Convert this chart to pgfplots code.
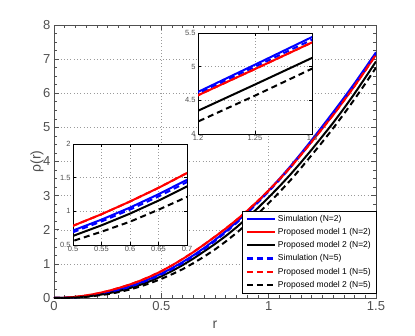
\documentclass[border=0pt]{standalone}
\usepackage{fontspec}
\setmainfont{Liberation Sans}
\usepackage{pgfplots}
\usepackage{pgfplotstable}
\pgfplotsset{compat=1.18}

\definecolor{frame}{HTML}{505050}
\definecolor{gridc}{HTML}{9A9A9A}

% r, Simulation N=2 (B), Simulation N=5 (Bd), Model 1 (R), Model 2 N=2 (K), Model 2 N=5 (Kd)
\pgfplotstableread{
r     B      Bd     R      K      Kd
0     0      0      0      0      0
0.05  0.005  0.005  0.008  0.003  0.002
0.10  0.023  0.021  0.033  0.018  0.013
0.15  0.054  0.051  0.074  0.044  0.034
0.20  0.101  0.096  0.131  0.081  0.071
0.25  0.162  0.155  0.202  0.132  0.112
0.30  0.240  0.230  0.290  0.200  0.170
0.35  0.333  0.320  0.388  0.283  0.243
0.40  0.443  0.428  0.503  0.383  0.333
0.45  0.570  0.550  0.635  0.500  0.440
0.50  0.715  0.690  0.785  0.635  0.560
0.55  0.877  0.850  0.957  0.792  0.697
0.60  1.056  1.026  1.146  0.966  0.846
0.65  1.254  1.221  1.349  1.159  1.024
0.70  1.469  1.434  1.569  1.369  1.214
0.75  1.703  1.670  1.798  1.583  1.423
0.80  1.955  1.923  2.035  1.815  1.655
0.85  2.226  2.195  2.286  2.071  1.906
0.90  2.516  2.486  2.556  2.346  2.176
0.95  2.825  2.795  2.845  2.640  2.470
1.00  3.150  3.120  3.150  2.950  2.780
1.05  3.490  3.460  3.475  3.270  3.100
1.10  3.850  3.820  3.820  3.610  3.440
1.15  4.230  4.205  4.190  3.970  3.805
1.20  4.625  4.605  4.575  4.345  4.185
1.25  5.030  5.000  4.965  4.735  4.570
1.30  5.440  5.400  5.360  5.130  4.970
1.35  5.860  5.820  5.780  5.550  5.390
1.40  6.290  6.250  6.210  5.990  5.825
1.45  6.740  6.700  6.665  6.455  6.280
1.50  7.200  7.160  7.130  6.930  6.750
}\rhodata

\tikzset{
  solc/.style={line width=2pt},
  dashc/.style={line width=2pt, dash pattern=on 6pt off 4pt},
  legsol/.style={line width=2.4pt},
  legdash/.style={line width=2.4pt, dash pattern=on 6pt off 4pt},
}
\pgfplotsset{
  gridlook/.style={grid=major,
    grid style={gridc, line width=0.45pt, dash pattern=on 0.7pt off 2.6pt}},
}

\begin{document}
\begin{tikzpicture}
\path[use as bounding box] (-54pt,-37pt) rectangle (361pt,298pt);

% main axis
\begin{axis}[
  width=322pt, height=273pt, scale only axis,
  xmin=0, xmax=1.5, ymin=0, ymax=8,
  xtick={0,0.5,1,1.5}, ytick={0,1,...,8},
  minor x tick num=9, minor y tick num=3,
  tick align=inside, xtick pos=both, ytick pos=both,
  major tick length=5pt, minor tick length=3pt,
  gridlook,
  axis line style={frame, line width=0.8pt},
  tick style={frame, line width=0.6pt},
  tick label style={font=\fontsize{13}{13}\selectfont, color=frame},
  /pgf/number format/assume math mode=true,
  xlabel={r}, ylabel={ρ(r)},
  every axis x label/.style={at={(axis description cs:0.5,-0.099)}, anchor=center,
    font=\fontsize{14}{14}\selectfont, color=frame},
  every axis y label/.style={at={(axis description cs:-0.053,0.5)}, anchor=center,
    rotate=90, font=\fontsize{14}{14}\selectfont, color=frame},
  legend style={at={(axis description cs:1,0.018)}, anchor=south east,
    draw=black, fill=white,
    font=\fontsize{8.5}{10}\selectfont, row sep=1.6pt,
    inner xsep=3pt, inner ysep=2pt},
  legend cell align=left,
]
\addplot[blue, solc, forget plot] table[x=r, y=B] {\rhodata};
\addplot[red, solc, forget plot] table[x=r, y=R] {\rhodata};
\addplot[black, solc, forget plot] table[x=r, y=K] {\rhodata};
\addplot[blue, dashc, forget plot] table[x=r, y=Bd] {\rhodata};
\addplot[red, dashc, forget plot] table[x=r, y=R] {\rhodata};
\addplot[black, dashc, forget plot] table[x=r, y=Kd] {\rhodata};
\addlegendimage{legend image code/.code={\draw[blue, legsol] (0pt,0pt) -- (28pt,0pt);}}
\addlegendentry{Simulation (N=2)}
\addlegendimage{legend image code/.code={\draw[red, legsol] (0pt,0pt) -- (28pt,0pt);}}
\addlegendentry{Proposed model 1 (N=2)}
\addlegendimage{legend image code/.code={\draw[black, legsol] (0pt,0pt) -- (28pt,0pt);}}
\addlegendentry{Proposed model 2 (N=2)}
\addlegendimage{legend image code/.code={\draw[blue, legdash] (0pt,0pt) -- (28pt,0pt);}}
\addlegendentry{Simulation (N=5)}
\addlegendimage{legend image code/.code={\draw[red, legdash] (0pt,0pt) -- (28pt,0pt);}}
\addlegendentry{Proposed model 1 (N=5)}
\addlegendimage{legend image code/.code={\draw[black, legdash] (0pt,0pt) -- (28pt,0pt);}}
\addlegendentry{Proposed model 2 (N=5)}
\end{axis}

% upper inset
\begin{axis}[
  at={(144pt,164pt)}, anchor=south west,
  width=114pt, height=101pt, scale only axis,
  xmin=1.2, xmax=1.3, ymin=4, ymax=5.5,
  xtick={1.2,1.25,1.3}, ytick={4,4.5,5,5.5},
  tick align=inside, major tick length=3pt,
  axis background/.style={fill=white},
  gridlook,
  axis line style={black, line width=0.8pt},
  tick style={black, line width=0.5pt},
  tick label style={font=\fontsize{7.5}{7.5}\selectfont, color=frame},
  /pgf/number format/assume math mode=true,
  xticklabel style={yshift=2pt}, yticklabel style={xshift=1pt},
]
\addplot[blue, solc] table[x=r, y=B] {\rhodata};
\addplot[red, solc] table[x=r, y=R] {\rhodata};
\addplot[black, solc] table[x=r, y=K] {\rhodata};
\addplot[blue, dashc] table[x=r, y=Bd] {\rhodata};
\addplot[red, dashc] table[x=r, y=R] {\rhodata};
\addplot[black, dashc] table[x=r, y=Kd] {\rhodata};
\end{axis}

% lower inset
\begin{axis}[
  at={(19pt,53pt)}, anchor=south west,
  width=114pt, height=101pt, scale only axis,
  xmin=0.5, xmax=0.7, ymin=0.5, ymax=2,
  xtick={0.5,0.55,0.6,0.65,0.7}, ytick={0.5,1,1.5,2},
  tick align=inside, major tick length=3pt,
  axis background/.style={fill=white},
  gridlook,
  axis line style={black, line width=0.8pt},
  tick style={black, line width=0.5pt},
  tick label style={font=\fontsize{7.5}{7.5}\selectfont, color=frame},
  /pgf/number format/assume math mode=true,
  xticklabel style={yshift=2pt}, yticklabel style={xshift=1pt},
]
\addplot[blue, solc] table[x=r, y=B] {\rhodata};
\addplot[red, solc] table[x=r, y=R] {\rhodata};
\addplot[black, solc] table[x=r, y=K] {\rhodata};
\addplot[blue, dashc] table[x=r, y=Bd] {\rhodata};
\addplot[red, dashc] table[x=r, y=R] {\rhodata};
\addplot[black, dashc] table[x=r, y=Kd] {\rhodata};
\end{axis}
\end{tikzpicture}
\end{document}
